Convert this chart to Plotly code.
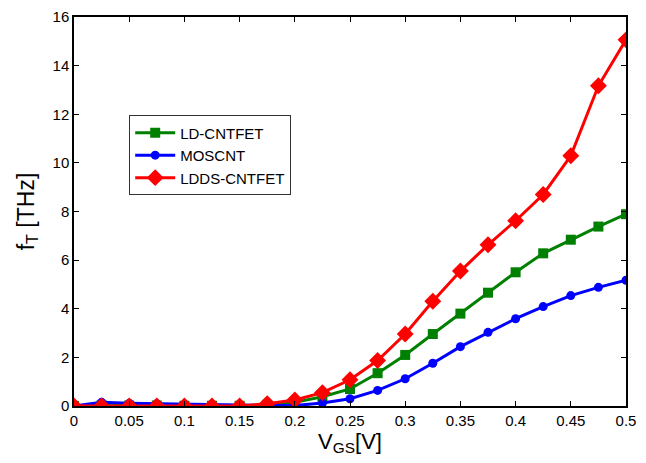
import plotly.graph_objects as go

vgs = [0, 0.025, 0.05, 0.075, 0.1, 0.125, 0.15, 0.175, 0.2, 0.225, 0.25, 0.275,
       0.3, 0.325, 0.35, 0.375, 0.4, 0.425, 0.45, 0.475, 0.5]
ld_cntfet = [0.0, 0.03, 0.02, 0.02, 0.01, 0.01, 0.01, 0.05, 0.15, 0.38, 0.7, 1.35,
             2.1, 2.96, 3.8, 4.66, 5.5, 6.28, 6.84, 7.38, 7.89]
moscnt = [0.0, 0.15, 0.11, 0.09, 0.06, 0.04, 0.03, 0.02, 0.02, 0.12, 0.3, 0.64,
          1.12, 1.76, 2.44, 3.03, 3.59, 4.09, 4.54, 4.88, 5.17]
ldds_cntfet = [0.0, 0.0, 0.0, 0.0, 0.0, 0.0, 0.0, 0.09, 0.25, 0.55, 1.08, 1.87,
               2.96, 4.31, 5.55, 6.63, 7.62, 8.70, 10.29, 13.17, 15.06]

x_ticks = [0, 0.05, 0.1, 0.15, 0.2, 0.25, 0.3, 0.35, 0.4, 0.45, 0.5]
x_tick_labels = ["0", "0.05", "0.1", "0.15", "0.2", "0.25", "0.3", "0.35", "0.4", "0.45", "0.5"]
y_ticks = [0, 2, 4, 6, 8, 10, 12, 14, 16]

fig = go.Figure()
fig.add_trace(go.Scatter(x=vgs, y=ld_cntfet, name="LD-CNTFET", mode="lines+markers",
                         line=dict(color="#008000", width=3),
                         marker=dict(symbol="square", size=10, color="#008000")))
fig.add_trace(go.Scatter(x=vgs, y=moscnt, name="MOSCNT", mode="lines+markers",
                         line=dict(color="#0000ff", width=3),
                         marker=dict(symbol="circle", size=9, color="#0000ff")))
fig.add_trace(go.Scatter(x=vgs, y=ldds_cntfet, name="LDDS-CNTFET", mode="lines+markers",
                         line=dict(color="#ff0000", width=3),
                         marker=dict(symbol="diamond", size=13, color="#ff0000")))

axis_common = dict(showline=True, linecolor="black", linewidth=1.5, mirror="ticks",
                   ticks="inside", ticklen=5, tickcolor="black", tickwidth=1,
                   showgrid=False, zeroline=False, automargin=False,
                   ticklabeloverflow="allow",
                   tickfont=dict(family="Arial, Liberation Sans, sans-serif", size=15, color="black"))

# page body has an 8px default margin, so the figure is sized to compensate
fig.update_layout(
    width=638, height=455,
    margin=dict(l=66, r=20, t=9, b=57, autoexpand=False),
    paper_bgcolor="white", plot_bgcolor="white",
    font=dict(family="Arial, Liberation Sans, sans-serif", color="black"),
    xaxis=dict(range=[0, 0.5], tickvals=x_ticks, ticktext=x_tick_labels,
               title=dict(text="V<sub>GS</sub>[V]", font=dict(size=22), standoff=3),
               **axis_common),
    yaxis=dict(range=[0, 16], tickvals=y_ticks,
               title=dict(text="f<sub>T</sub> [THz]", font=dict(size=23), standoff=12),
               **axis_common),
    legend=dict(x=0.1, y=0.747, xanchor="left", yanchor="top",
                bgcolor="white", bordercolor="#333333", borderwidth=1,
                font=dict(size=15, color="black"), tracegroupgap=0,
                itemwidth=40),
    showlegend=True,
)

fig.write_html("out.html")
